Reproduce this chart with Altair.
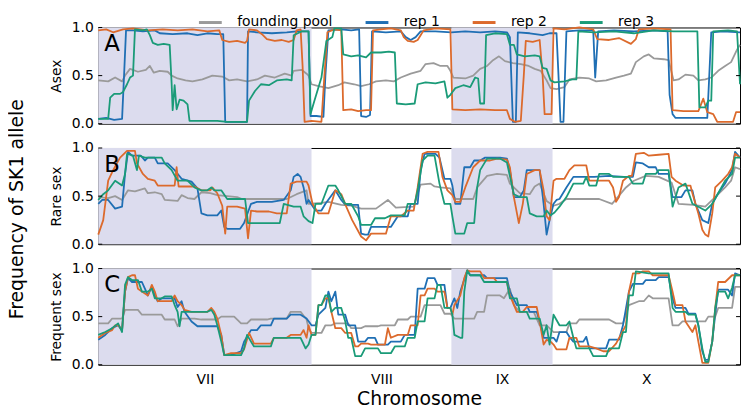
import altair as alt
import pandas as pd

SERIES = ["founding pool", "rep 1", "rep 2", "rep 3"]
COLORS = ["#9a9a9a", "#1f6fb4", "#dc6a2c", "#1a9b78"]

CHROM_NAMES = ["VII", "VIII", "IX", "X"]
CHROM_START = [0, 215, 356, 458]
CHROM_END = [215, 356, 458, 647]
SHADED = ["VII", "IX"]

PANEL_LETTERS = ["A", "B", "C"]
PANEL_TITLES = ["Asex", "Rare sex", "Frequent sex"]
Y_TICKS = [0, 0.5, 1]

# ---------------- Panel A (Asex) ----------------
A_POOL = [(0,0.45),(10,0.44),(17,0.48),(24,0.44),(27,0.5),(32,0.57),(40,0.54),(48,0.56),(52,0.6),(56,0.53),
          (62,0.55),(70,0.54),(74,0.5),(80,0.47),(88,0.45),(95,0.44),(105,0.46),(115,0.5),(125,0.49),(132,0.45),
          (140,0.46),(150,0.44),(160,0.46),(168,0.5),(178,0.48),(188,0.52),(195,0.5),(197,0.55),(205,0.56),(210,0.52),
          (212,0.5),(215,0.41),(222,0.39),(232,0.37),(242,0.4),(248,0.43),(258,0.41),(265,0.39),(273,0.41),(280,0.44),
          (290,0.45),(298,0.44),(305,0.48),(315,0.52),(325,0.55),(330,0.62),(338,0.63),(345,0.6),(352,0.6),(355,0.55),
          (358,0.48),(370,0.47),(378,0.5),(385,0.57),(392,0.6),(398,0.66),(404,0.7),(410,0.65),(418,0.63),(426,0.62),
          (434,0.6),(440,0.57),(446,0.55),(452,0.45),(456,0.37),(462,0.36),(470,0.38),(475,0.46),(485,0.48),(495,0.47),
          (502,0.44),(512,0.45),(522,0.48),(530,0.5),(537,0.52),(542,0.64),(550,0.7),(555,0.72),(560,0.68),(570,0.67),
          (575,0.66),(580,0.45),(585,0.46),(592,0.51),(600,0.5),(605,0.45),(612,0.46),(618,0.48),(625,0.55),(632,0.6),
          (638,0.64),(644,0.77),(647,0.82)]
A_REP1 = [(0,0.05),(8,0.06),(16,0.04),(24,0.05),(26,0.5),(28,0.97),(35,0.97),(45,0.96),(57,0.97),(62,0.94),
          (75,0.93),(90,0.94),(100,0.92),(110,0.94),(120,0.93),(126,0.93),(128,0.02),(140,0.02),(150,0.02),(151,0.96),
          (160,0.95),(175,0.94),(190,0.95),(200,0.96),(212,0.96),(214,0.08),(220,0.08),(227,0.07),(229,0.5),(232,0.97),
          (245,0.98),(255,0.97),(263,0.98),(265,0.08),(270,0.07),(274,0.09),(276,0.96),(290,0.95),(305,0.96),(310,0.9),
          (315,0.87),(320,0.9),(325,0.96),(340,0.96),(356,0.95),(370,0.96),(385,0.95),(400,0.96),(412,0.95),(415,0.9),
          (418,0.02),(421,0.02),(423,0.95),(435,0.94),(448,0.92),(455,0.94),(462,0.94),(464,0.5),(466,0.02),(469,0.02),
          (472,0.96),(485,0.97),(499,0.97),(501,0.48),(504,0.96),(520,0.97),(540,0.96),(560,0.97),(574,0.96),(576,0.3),
          (579,0.1),(582,0.06),(600,0.06),(614,0.06),(616,0.5),(618,0.95),(630,0.96),(647,0.95)]
A_REP2 = [(0,0.97),(8,0.98),(15,0.95),(25,0.98),(35,0.99),(50,0.97),(65,0.98),(80,0.97),(95,0.98),(110,0.96),
          (122,0.97),(125,0.87),(132,0.85),(140,0.86),(148,0.84),(150,0.86),(152,0.98),(160,0.97),(165,0.93),(170,0.88),
          (178,0.86),(185,0.87),(192,0.85),(197,0.87),(200,0.97),(204,0.98),(206,0.6),(208,0.02),(215,0.03),(225,0.02),
          (228,0.5),(231,0.95),(238,0.98),(245,0.97),(247,0.14),(255,0.15),(262,0.13),(270,0.14),(275,0.14),(277,0.97),
          (285,0.98),(295,0.99),(305,0.97),(308,0.9),(312,0.86),(318,0.85),(322,0.87),(325,0.92),(328,0.97),(340,0.99),
          (355,0.98),(357,0.15),(370,0.14),(385,0.15),(400,0.14),(412,0.14),(415,0.05),(420,0.02),(426,0.03),(429,0.5),
          (431,0.86),(438,0.85),(445,0.87),(448,0.5),(450,0.1),(457,0.1),(459,0.99),(470,0.98),(485,1.0),(499,0.98),
          (503,0.88),(515,0.87),(525,0.89),(537,0.83),(542,0.88),(545,0.98),(560,0.99),(577,0.98),(579,0.14),(590,0.13),
          (605,0.13),(610,0.26),(614,0.12),(620,0.1),(624,0.02),(640,0.02),(643,0.12),(647,0.12)]
A_REP3 = [(0,0.05),(10,0.05),(12,0.27),(16,0.31),(22,0.31),(25,0.33),(29,0.41),(32,0.48),(35,0.5),(37,0.98),
          (45,0.97),(49,0.98),(52,0.92),(55,0.84),(60,0.82),(66,0.83),(72,0.82),(74,0.41),(75,0.14),(77,0.4),
          (79,0.15),(82,0.25),(86,0.24),(90,0.2),(92,0.03),(105,0.03),(120,0.03),(130,0.02),(150,0.02),(152,0.24),
          (158,0.34),(164,0.41),(172,0.4),(180,0.45),(190,0.46),(195,0.45),(197,0.92),(205,0.96),(212,0.96),(214,0.1),
          (218,0.24),(225,0.48),(230,0.86),(236,0.9),(238,0.99),(245,0.99),(247,0.72),(255,0.7),(262,0.71),(270,0.69),
          (275,0.74),(285,0.74),(293,0.75),(299,0.74),(301,0.21),(310,0.2),(319,0.21),(322,0.41),(330,0.43),(340,0.42),
          (349,0.44),(352,0.27),(355,0.3),(360,0.37),(368,0.4),(375,0.38),(380,0.48),(383,0.47),(385,0.21),(389,0.21),
          (391,0.92),(400,0.94),(412,0.93),(415,0.82),(419,0.82),(422,0.72),(430,0.7),(440,0.71),(445,0.7),(448,0.58),
          (452,0.57),(456,0.45),(460,0.43),(470,0.44),(478,0.46),(482,0.46),(484,0.96),(500,0.95),(520,0.96),(540,0.94),
          (560,0.97),(580,0.96),(604,0.96),(606,0.17),(612,0.17),(615,0.24),(618,0.24),(620,0.96),(635,0.97),(644,0.96),
          (647,0.41)]

# ---------------- Panel B (Rare sex) ----------------
B_POOL = [(0,0.49),(10,0.48),(17,0.5),(24,0.46),(30,0.56),(37,0.55),(47,0.58),(50,0.53),(57,0.54),(64,0.52),
          (67,0.46),(80,0.45),(84,0.51),(90,0.48),(97,0.47),(104,0.54),(113,0.53),(120,0.51),(130,0.5),(140,0.49),
          (145,0.47),(160,0.47),(175,0.47),(190,0.47),(200,0.52),(210,0.56),(212,0.42),(225,0.43),(232,0.44),(245,0.41),
          (255,0.4),(265,0.37),(280,0.37),(292,0.46),(300,0.38),(318,0.39),(325,0.62),(335,0.63),(339,0.6),(345,0.59),
          (355,0.58),(360,0.47),(378,0.47),(382,0.59),(392,0.71),(402,0.73),(412,0.72),(415,0.63),(425,0.53),(435,0.52),
          (440,0.6),(445,0.63),(452,0.45),(459,0.4),(465,0.42),(472,0.47),(490,0.47),(505,0.47),(518,0.42),(532,0.59),
          (540,0.66),(552,0.71),(565,0.7),(578,0.64),(585,0.42),(600,0.41),(612,0.39),(622,0.49),(632,0.59),(638,0.66),
          (642,0.8),(647,0.78)]
B_REP1 = [(0,0.42),(4,0.46),(10,0.46),(17,0.37),(24,0.39),(27,0.73),(30,0.96),(34,0.92),(43,0.92),(47,0.87),
          (50,0.9),(57,0.9),(60,0.84),(70,0.84),(77,0.77),(84,0.68),(94,0.65),(100,0.58),(104,0.32),(110,0.3),
          (120,0.3),(124,0.35),(127,0.18),(130,0.16),(143,0.16),(147,0.22),(154,0.42),(160,0.44),(175,0.44),(187,0.46),
          (194,0.56),(197,0.7),(201,0.73),(204,0.7),(207,0.59),(210,0.42),(212,0.46),(219,0.35),(225,0.35),(229,0.42),
          (239,0.56),(245,0.46),(249,0.41),(262,0.41),(265,0.11),(269,0.1),(272,0.1),(275,0.18),(295,0.18),(302,0.29),
          (312,0.29),(315,0.42),(322,0.42),(325,0.77),(329,0.94),(340,0.94),(344,0.9),(349,0.68),(355,0.68),(357,0.61),
          (360,0.42),(365,0.42),(369,0.8),(375,0.8),(379,0.87),(385,0.87),(390,0.9),(405,0.9),(412,0.89),(415,0.77),
          (419,0.49),(425,0.49),(429,0.56),(432,0.77),(445,0.77),(449,0.42),(452,0.1),(455,0.25),(459,0.42),(462,0.46),
          (465,0.47),(472,0.59),(479,0.7),(492,0.7),(500,0.7),(515,0.71),(530,0.7),(539,0.7),(542,0.85),(549,0.84),
          (555,0.8),(562,0.8),(565,0.73),(575,0.73),(579,0.49),(588,0.49),(592,0.56),(599,0.56),(602,0.42),(609,0.25),
          (615,0.22),(619,0.42),(625,0.53),(632,0.63),(639,0.77),(642,0.96),(647,0.9)]
B_REP2 = [(0,0.1),(5,0.25),(10,0.66),(15,0.77),(22,0.9),(29,0.97),(37,0.97),(39,0.84),(45,0.73),(50,0.68),
          (57,0.66),(60,0.61),(70,0.61),(77,0.61),(79,0.8),(81,0.6),(90,0.6),(97,0.6),(104,0.56),(113,0.56),
          (115,0.59),(120,0.53),(125,0.4),(128,0.11),(130,0.39),(140,0.39),(148,0.37),(151,0.06),(154,0.35),(160,0.34),
          (172,0.34),(180,0.32),(190,0.32),(194,0.63),(200,0.65),(210,0.65),(212,0.61),(216,0.42),(222,0.32),(232,0.32),
          (235,0.42),(239,0.56),(245,0.52),(250,0.39),(256,0.25),(265,0.08),(270,0.04),(275,0.11),(290,0.11),(295,0.29),
          (305,0.29),(312,0.35),(318,0.35),(322,0.59),(327,0.94),(332,0.96),(343,0.96),(347,0.7),(352,0.56),(357,0.51),
          (360,0.44),(365,0.44),(370,0.59),(378,0.8),(385,0.87),(395,0.87),(402,0.89),(412,0.88),(415,0.8),(419,0.49),
          (424,0.22),(428,0.42),(432,0.73),(440,0.77),(445,0.77),(449,0.56),(452,0.29),(455,0.25),(459,0.66),(462,0.68),
          (470,0.68),(475,0.77),(480,0.82),(492,0.82),(495,0.66),(500,0.66),(515,0.66),(519,0.59),(522,0.44),(525,0.49),
          (529,0.66),(535,0.71),(538,0.71),(542,0.94),(550,0.95),(555,0.92),(565,0.93),(575,0.94),(578,0.7),(582,0.66),
          (590,0.61),(597,0.61),(599,0.53),(605,0.32),(609,0.15),(612,0.1),(615,0.08),(619,0.32),(622,0.59),(629,0.66),
          (635,0.73),(639,0.8),(642,0.94),(647,0.9)]
B_REP3 = [(0,0.46),(5,0.52),(10,0.56),(17,0.66),(24,0.61),(27,0.73),(29,0.94),(35,0.92),(39,0.77),(41,0.92),
          (47,0.9),(57,0.9),(64,0.9),(67,0.84),(74,0.77),(80,0.66),(90,0.66),(97,0.59),(104,0.56),(110,0.56),
          (114,0.59),(117,0.56),(124,0.56),(130,0.47),(140,0.47),(148,0.47),(151,0.22),(155,0.22),(170,0.22),(183,0.22),
          (187,0.42),(197,0.39),(204,0.39),(207,0.29),(212,0.24),(216,0.22),(219,0.42),(225,0.42),(232,0.61),(239,0.61),
          (242,0.56),(249,0.42),(255,0.42),(262,0.29),(265,0.2),(275,0.2),(279,0.27),(289,0.27),(295,0.3),(309,0.3),
          (312,0.42),(319,0.42),(322,0.56),(327,0.87),(332,0.92),(339,0.92),(344,0.63),(349,0.42),(355,0.42),(357,0.29),
          (360,0.11),(369,0.11),(372,0.22),(379,0.22),(382,0.59),(385,0.77),(392,0.89),(405,0.89),(412,0.85),(419,0.52),
          (425,0.49),(432,0.49),(435,0.32),(442,0.29),(449,0.29),(452,0.35),(456,0.3),(460,0.33),(465,0.39),(472,0.49),
          (479,0.63),(489,0.63),(492,0.7),(495,0.61),(502,0.61),(505,0.73),(515,0.73),(519,0.7),(535,0.7),(539,0.63),
          (549,0.63),(552,0.73),(562,0.73),(565,0.77),(575,0.77),(579,0.39),(585,0.59),(592,0.63),(599,0.42),(605,0.39),
          (612,0.35),(619,0.42),(625,0.53),(632,0.66),(639,0.73),(642,0.9),(647,0.9)]

# ---------------- Panel C (Frequent sex) ----------------
C_POOL = [(0,0.43),(10,0.43),(14,0.48),(24,0.48),(27,0.57),(40,0.57),(44,0.52),(64,0.52),(67,0.47),(77,0.47),
          (80,0.4),(84,0.48),(97,0.48),(104,0.47),(120,0.47),(124,0.5),(137,0.5),(144,0.43),(150,0.43),(154,0.47),
          (170,0.47),(174,0.48),(190,0.48),(194,0.55),(204,0.55),(210,0.47),(212,0.38),(215,0.33),(225,0.33),(229,0.41),
          (235,0.41),(239,0.43),(252,0.43),(255,0.38),(265,0.38),(269,0.4),(282,0.4),(285,0.41),(299,0.41),(302,0.47),
          (312,0.47),(315,0.5),(325,0.5),(329,0.62),(345,0.62),(349,0.53),(355,0.53),(359,0.48),(379,0.48),(382,0.55),
          (389,0.55),(392,0.72),(405,0.72),(409,0.69),(415,0.79),(419,0.62),(425,0.55),(439,0.55),(445,0.41),(452,0.41),
          (459,0.34),(472,0.34),(475,0.43),(482,0.43),(485,0.47),(515,0.47),(522,0.43),(529,0.43),(535,0.62),(545,0.66),
          (550,0.66),(555,0.72),(559,0.69),(575,0.69),(579,0.41),(585,0.41),(589,0.45),(612,0.45),(615,0.5),(622,0.5),
          (625,0.59),(639,0.59),(642,0.81),(647,0.81)]
C_REP1 = [(0,0.26),(7,0.31),(14,0.38),(20,0.41),(24,0.36),(27,0.76),(30,0.9),(34,0.86),(44,0.86),(47,0.79),
          (50,0.72),(54,0.81),(57,0.72),(60,0.66),(64,0.69),(77,0.69),(80,0.6),(84,0.66),(87,0.55),(94,0.45),
          (100,0.4),(115,0.4),(120,0.4),(124,0.31),(127,0.1),(134,0.1),(144,0.14),(147,0.24),(154,0.36),(160,0.36),
          (164,0.41),(174,0.41),(177,0.48),(190,0.48),(194,0.52),(204,0.52),(210,0.48),(215,0.41),(219,0.41),(222,0.52),
          (229,0.59),(232,0.76),(235,0.66),(239,0.76),(242,0.52),(249,0.52),(252,0.41),(259,0.41),(262,0.24),(269,0.24),
          (272,0.28),(279,0.28),(282,0.21),(292,0.21),(295,0.24),(305,0.24),(309,0.31),(319,0.31),(322,0.79),(329,0.79),
          (332,0.9),(339,0.9),(342,0.83),(349,0.83),(352,0.59),(355,0.59),(359,0.69),(362,0.59),(365,0.76),(372,0.98),
          (375,0.93),(389,0.93),(392,0.9),(412,0.9),(415,0.76),(422,0.62),(432,0.62),(435,0.55),(442,0.55),(445,0.45),
          (449,0.28),(452,0.28),(459,0.28),(462,0.24),(465,0.34),(472,0.34),(475,0.29),(479,0.24),(489,0.24),(492,0.29),
          (495,0.17),(512,0.17),(515,0.26),(525,0.26),(529,0.41),(535,0.76),(539,0.84),(549,0.84),(552,0.88),(562,0.88),
          (565,0.91),(575,0.91),(579,0.69),(582,0.59),(592,0.59),(595,0.53),(602,0.53),(605,0.41),(609,0.14),(612,0.05),
          (615,0.05),(619,0.24),(622,0.52),(625,0.78),(635,0.78),(639,0.72),(642,0.95),(647,0.93)]
C_REP2 = [(0,0.28),(7,0.33),(14,0.36),(17,0.41),(20,0.41),(24,0.36),(27,0.76),(30,0.91),(34,0.93),(37,0.93),
          (40,0.79),(44,0.76),(47,0.74),(50,0.72),(54,0.83),(57,0.76),(60,0.66),(67,0.66),(74,0.66),(77,0.72),
          (80,0.66),(84,0.62),(87,0.57),(94,0.55),(104,0.55),(110,0.55),(114,0.59),(117,0.55),(120,0.48),(124,0.31),
          (127,0.1),(134,0.12),(144,0.12),(147,0.16),(152,0.33),(157,0.22),(167,0.22),(174,0.22),(177,0.28),(190,0.28),
          (194,0.31),(204,0.31),(207,0.36),(210,0.28),(212,0.41),(215,0.31),(219,0.31),(222,0.62),(225,0.62),(229,0.69),
          (232,0.69),(235,0.55),(239,0.38),(245,0.38),(249,0.33),(255,0.33),(259,0.19),(262,0.19),(265,0.22),(272,0.22),
          (275,0.21),(289,0.21),(292,0.38),(295,0.28),(302,0.31),(312,0.31),(315,0.41),(322,0.41),(325,0.72),(329,0.72),
          (332,0.79),(339,0.79),(342,0.76),(349,0.76),(352,0.59),(355,0.59),(357,0.52),(359,0.62),(365,0.72),(369,0.9),
          (372,0.98),(375,0.97),(385,0.97),(389,0.9),(399,0.9),(402,0.86),(412,0.86),(415,0.72),(422,0.55),(428,0.55),
          (432,0.6),(442,0.6),(445,0.45),(449,0.21),(452,0.26),(456,0.24),(459,0.21),(462,0.16),(472,0.16),(475,0.28),
          (482,0.28),(485,0.19),(495,0.19),(502,0.17),(509,0.14),(515,0.14),(522,0.22),(532,0.41),(535,0.76),(539,0.95),
          (545,0.95),(549,0.97),(555,0.97),(559,0.93),(575,0.93),(579,0.76),(582,0.62),(589,0.62),(592,0.45),(599,0.34),
          (602,0.41),(605,0.24),(609,0.02),(615,0.02),(619,0.24),(622,0.59),(625,0.86),(632,0.86),(639,0.93),(647,0.93)]
C_REP3 = [(0,0.31),(7,0.34),(14,0.38),(20,0.43),(24,0.34),(27,0.83),(30,0.91),(34,0.88),(40,0.88),(44,0.76),
          (50,0.76),(54,0.79),(57,0.69),(64,0.69),(67,0.71),(74,0.71),(77,0.62),(80,0.55),(82,0.4),(84,0.55),
          (90,0.55),(100,0.55),(110,0.55),(114,0.57),(117,0.52),(120,0.41),(124,0.24),(127,0.1),(130,0.1),(144,0.1),
          (147,0.17),(150,0.31),(154,0.24),(157,0.19),(174,0.19),(177,0.28),(194,0.28),(204,0.28),(209,0.17),(212,0.21),
          (215,0.31),(219,0.31),(222,0.62),(225,0.62),(229,0.72),(232,0.72),(235,0.55),(239,0.59),(245,0.59),(249,0.45),
          (252,0.28),(255,0.28),(259,0.09),(265,0.09),(269,0.17),(282,0.17),(285,0.12),(295,0.12),(299,0.19),(309,0.19),
          (312,0.28),(319,0.28),(322,0.45),(329,0.45),(332,0.69),(339,0.69),(342,0.83),(345,0.83),(349,0.59),(355,0.59),
          (357,0.52),(359,0.31),(365,0.28),(367,0.28),(369,0.76),(372,0.98),(375,0.93),(385,0.93),(389,0.86),(412,0.86),
          (415,0.69),(422,0.69),(425,0.55),(432,0.55),(435,0.48),(445,0.48),(449,0.31),(452,0.41),(455,0.21),(459,0.52),
          (465,0.41),(472,0.41),(475,0.45),(479,0.28),(482,0.17),(495,0.17),(499,0.09),(512,0.09),(515,0.17),(525,0.17),
          (529,0.34),(532,0.34),(535,0.72),(539,0.72),(542,0.97),(555,0.95),(575,0.95),(579,0.59),(582,0.55),(592,0.55),
          (595,0.52),(602,0.52),(605,0.41),(609,0.17),(612,0.03),(615,0.03),(619,0.24),(622,0.59),(625,0.76),(632,0.76),
          (635,0.69),(639,0.8),(642,0.93),(647,0.93)]

PANEL_DATA = {
    "A": {"founding pool": A_POOL, "rep 1": A_REP1, "rep 2": A_REP2, "rep 3": A_REP3},
    "B": {"founding pool": B_POOL, "rep 1": B_REP1, "rep 2": B_REP2, "rep 3": B_REP3},
    "C": {"founding pool": C_POOL, "rep 1": C_REP1, "rep 2": C_REP2, "rep 3": C_REP3},
}

FONT = "DejaVu Sans"
W, H = 647, 97
TICK_LEN = 4

shade_df = pd.DataFrame({"chrom": CHROM_NAMES, "start": CHROM_START, "end": CHROM_END})
shade_df = shade_df[shade_df["chrom"].isin(SHADED)]
ytick_df = pd.DataFrame({"v": Y_TICKS})

centers = [(s + e) / 2 for s, e in zip(CHROM_START, CHROM_END)]
label_expr = ""
for c, n in zip(centers[:-1], CHROM_NAMES[:-1]):
    label_expr += f"datum.value < {c + 1} ? '{n}' : "
label_expr += f"'{CHROM_NAMES[-1]}'"

x_scale = alt.Scale(domain=[CHROM_START[0], CHROM_END[-1]], nice=False, zero=False)
y_scale = alt.Scale(domain=[0, 1], nice=False)

color = alt.Color(
    "series:N",
    scale=alt.Scale(domain=SERIES, range=COLORS),
    legend=alt.Legend(
        title=None, orient="none", legendX=100, legendY=-18, direction="horizontal",
        columns=4, symbolType="M-1,0L1,0", symbolStrokeWidth=3, symbolSize=529,
        labelFontSize=14, labelFont=FONT, labelColor="black", columnPadding=26,
        labelOffset=14, padding=0, gridAlign="none",
    ),
)


def make_panel(letter, title, bottom):
    rows = []
    for s in SERIES:
        for i, (x, y) in enumerate(PANEL_DATA[letter][s]):
            rows.append({"series": s, "pos": x, "freq": y, "idx": i})
    df = pd.DataFrame(rows)

    if bottom:
        x_axis = alt.Axis(values=centers, labelExpr=label_expr, ticks=False, domain=False, grid=False,
                          labelFontSize=14, labelFont=FONT, labelColor="black", labelPadding=8,
                          labelFlush=False, title="Chromosome", titleFontSize=19, titleFont=FONT,
                          titleFontWeight="normal", titleColor="black", titlePadding=3)
    else:
        x_axis = None

    y_axis = alt.Axis(values=Y_TICKS, format=".1f", title=title, titleFontSize=14, titleFont=FONT,
                      titleFontWeight="normal", titleColor="black", labelFontSize=14, labelFont=FONT,
                      labelColor="black", domain=False, ticks=False, grid=False, labelPadding=5,
                      titlePadding=8)

    shade = alt.Chart(shade_df).mark_rect(color="#dcdcee").encode(
        x=alt.X("start:Q", scale=x_scale, axis=x_axis),
        x2="end:Q",
        y=alt.Y(datum=0, scale=y_scale, axis=y_axis),
        y2=alt.Y2(datum=1),
    )
    lines = alt.Chart(df).mark_line(strokeWidth=1.8, strokeJoin="round").encode(
        x=alt.X("pos:Q", scale=x_scale, axis=x_axis),
        y=alt.Y("freq:Q", scale=y_scale, axis=y_axis),
        color=color,
        order="idx:Q",
    )
    ticks_left = alt.Chart(ytick_df).mark_rule(color="black", strokeWidth=1).encode(
        y=alt.Y("v:Q", scale=y_scale, axis=y_axis), x=alt.value(0), x2=alt.value(TICK_LEN)
    )
    ticks_right = alt.Chart(ytick_df).mark_rule(color="black", strokeWidth=1).encode(
        y=alt.Y("v:Q", scale=y_scale, axis=y_axis), x=alt.value(W - TICK_LEN), x2=alt.value(W)
    )
    txt = alt.Chart(pd.DataFrame({"t": [letter]})).mark_text(
        align="left", baseline="alphabetic", fontSize=23, font=FONT, color="black"
    ).encode(text="t:N", x=alt.value(6), y=alt.value(24))
    return alt.layer(shade, lines, ticks_left, ticks_right, txt).properties(width=W, height=H)


panels = [make_panel(l, t, i == 2) for i, (l, t) in enumerate(zip(PANEL_LETTERS, PANEL_TITLES))]

chart = alt.vconcat(*panels, spacing=8.5).properties(
    title=alt.TitleParams("Frequency of SK1 allele", orient="left", anchor="middle", fontSize=19,
                          font=FONT, fontWeight="normal", color="black", offset=22),
    padding=0,
).configure(font=FONT).configure_view(stroke="black", strokeWidth=1)

chart.save("out.html", embed_options={"renderer": "svg", "actions": False})
